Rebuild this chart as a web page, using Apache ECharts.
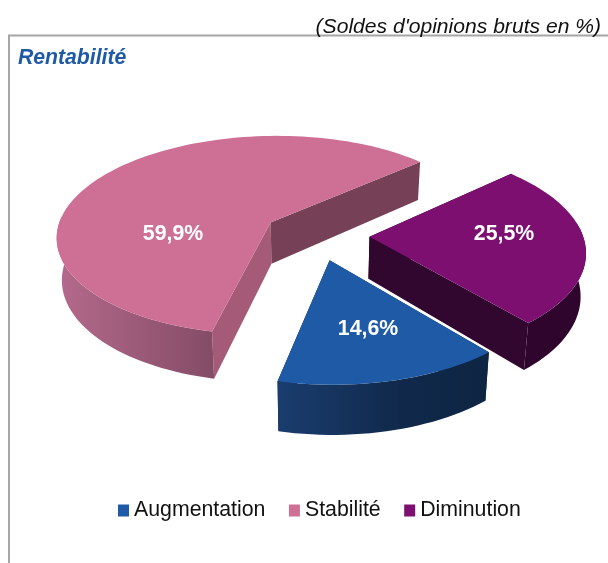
<!DOCTYPE html>
<html>
<head>
<meta charset="utf-8">
<style>
html, body { margin: 0; padding: 0; background: #fff; }
#main { width: 608px; height: 563px; }
</style>
<script src="https://cdn.jsdelivr.net/npm/echarts@6/dist/echarts.min.js"></script>
</head>
<body>
<div id="main"></div>
<script>
// data
var categories = ['Augmentation', 'Stabilité', 'Diminution'];
var shares = [14.6, 59.9, 25.5];

// colours: top face, cut faces (entering / leaving the slice), outer wall gradient
var topColors = ['#1f5aa6', '#ce7096', '#7d0f70'];
var cutColors = [['#0e2542', '#0e2542'], ['#764057', '#a55a78'], ['#31062f', '#31062f']];
var wallStops = [
    [[276, '#1a3d6f'], [400, '#10294b'], [489, '#0e2542']],
    [[56, '#b56a8c'], [212, '#844c67']],
    [[370, '#2f052e'], [530, '#2f052e']]
];
var labelSpots = [[368, 329], [173, 234], [504, 234]];
var widthScale = [0.98, 1, 0.98];

// fake 3d camera, tuned by eye
var startAngle = 51.7;   // screen degrees, clockwise from east
var explode = 0.25;
var view = { x: 316.5, y: 235, a: 216, b: 101, k: 0.13, shear: 7, tilt: -3.5, depth: 42, shrink: 0.98 };

var myChart = echarts.init(document.getElementById('main'));

// disc coordinates -> pixels, lower = bottom rim of the slab
function project(u, v, lower, scale) {
    var w = 1 - view.k * v;
    var x = (view.a * u + view.shear * v) / w * scale;
    var y = (view.b * v + view.tilt * u) / w;
    if (lower) {
        x = x * view.shrink;
        y = y + view.depth / w;
    }
    return [view.x + x, view.y + y];
}

var total = shares.reduce(function (s, v) { return s + v; }, 0);

function sliceItem(index, from) {
    return function (params, api) {
        var sweep = api.value(0) / total * 360;
        var a0 = from * Math.PI / 180;
        var a1 = (from + sweep) * Math.PI / 180;
        var mid = (a0 + a1) / 2;
        var ox = explode * Math.cos(mid);
        var oy = explode * Math.sin(mid);
        var scale = widthScale[index];

        var topArc = [], lowArc = [], wallTop = [], wallLow = [];
        var steps = Math.ceil(sweep / 2);
        for (var i = 0; i <= steps; i++) {
            var t = a0 + (a1 - a0) * i / steps;
            var up = project(ox + Math.cos(t), oy + Math.sin(t), false, scale);
            var low = project(ox + Math.cos(t), oy + Math.sin(t), true, scale);
            topArc.push(up);
            lowArc.push(low);
            // only the part of the rim turned to the viewer
            if (Math.sin(t) >= -0.12) {
                wallTop.push(up);
                wallLow.push(low);
            }
        }
        var apexTop = project(ox, oy, false, scale);
        var apexLow = project(ox, oy, true, scale);

        var stops = wallStops[index];
        var x0 = stops[0][0], x1 = stops[stops.length - 1][0];
        var wallFill = new echarts.graphic.LinearGradient(x0, 0, x1, 0, stops.map(function (s) {
            return { offset: (s[0] - x0) / (x1 - x0), color: s[1] };
        }), true);

        return {
            type: 'group',
            children: [
                {
                    type: 'polygon',
                    shape: { points: [apexTop, topArc[0], lowArc[0], apexLow] },
                    style: { fill: cutColors[index][1] }
                },
                {
                    type: 'polygon',
                    shape: { points: [apexTop, topArc[steps], lowArc[steps], apexLow] },
                    style: { fill: cutColors[index][0] }
                },
                {
                    type: 'polygon',
                    shape: { points: wallTop.concat(wallLow.slice().reverse()) },
                    style: { fill: wallFill }
                },
                {
                    type: 'polygon',
                    shape: { points: [apexTop].concat(topArc) },
                    style: { fill: topColors[index] }
                },
                {
                    type: 'text',
                    style: {
                        text: String(api.value(0)).replace('.', ',') + '%',
                        x: labelSpots[index][0],
                        y: labelSpots[index][1],
                        fill: '#fff',
                        font: 'bold 21.3px "Liberation Sans"',
                        textAlign: 'center',
                        textVerticalAlign: 'middle'
                    }
                }
            ]
        };
    };
}

var starts = [], run = startAngle;
for (var i = 0; i < shares.length; i++) {
    starts.push(run);
    run += shares[i] / total * 360;
}

// back to front, the legend keeps the category order
var series = [1, 2, 0].map(function (i) {
    return {
        type: 'custom',
        name: categories[i],
        coordinateSystem: 'none',
        renderItem: sliceItem(i, starts[i]),
        itemStyle: { color: topColors[i] },
        silent: true,
        data: [[shares[i]]]
    };
});

var option = {
    animation: false,
    title: [
        {
            text: "(Soldes d'opinions bruts en %)",
            right: 7,
            top: 17,
            padding: 0,
            textStyle: { fontFamily: 'Liberation Sans', fontStyle: 'italic', fontWeight: 'normal', fontSize: 21.1, color: '#111' }
        },
        {
            text: 'Rentabilité',
            left: 18,
            top: 48,
            padding: 0,
            textStyle: { fontFamily: 'Liberation Sans', fontStyle: 'italic', fontWeight: 'bold', fontSize: 21.2, color: '#1f5aa6' }
        }
    ],
    legend: {
        data: categories,
        left: 118,
        top: 500,
        padding: 0,
        icon: 'rect',
        itemWidth: 11,
        itemHeight: 12,
        itemGap: 23.5,
        selectedMode: false,
        textStyle: { fontFamily: 'Liberation Sans', fontSize: 21.3, color: '#111' }
    },
    graphic: [
        {
            type: 'polyline',
            silent: true,
            shape: { points: [[9, 563], [9, 35.5], [608, 35.5]] },
            style: { stroke: '#a6a6a6', lineWidth: 2, fill: null }
        }
    ],
    series: series
};

myChart.setOption(option);
</script>
</body>
</html>
